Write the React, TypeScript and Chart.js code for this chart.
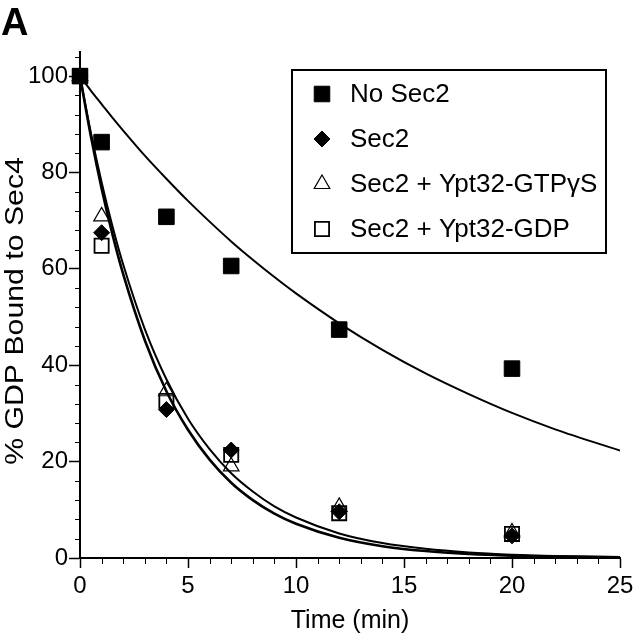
import React, { useEffect, useRef } from 'react';
import { Chart, registerables } from 'chart.js';

Chart.register(...registerables);

// Measured data points (time in min, % GDP bound)
const times = [0, 1, 4, 7, 12, 20];
const noSec2 = [100, 86.3, 70.8, 60.6, 47.4, 39.3];
const sec2 = [100, 67.5, 30.8, 22.4, 9.6, 4.6];
const sec2Gtp = [100, 70.9, 34.6, 19.0, 10.6, 5.3];
const sec2Gdp = [100, 64.8, 32.6, 21.4, 9.3, 5.0];

// Fitted curves
const fitTimes = [0, 0.5, 1, 1.5, 2, 3, 4, 5, 6, 7, 8, 9, 10, 12, 14, 16, 18, 20, 22, 25];
const fitNoSec2 = [100, 97.0, 94.2, 91.4, 88.7, 83.5, 78.7, 74.1, 69.8, 65.7, 61.9, 58.3, 54.9, 48.7, 43.2, 38.3, 34.0, 30.1, 26.7, 22.3];
const fitFastA = [100, 87.6, 76.7, 67.2, 58.9, 45.2, 34.6, 26.6, 20.4, 15.6, 12.0, 9.2, 7.1, 4.2, 2.45, 1.44, 0.85, 0.5, 0.29, 0.13];
const fitFastB = [100, 88.3, 78.0, 68.9, 60.9, 47.5, 37.1, 28.9, 22.6, 17.6, 13.8, 10.7, 8.4, 5.1, 3.1, 1.9, 1.15, 0.7, 0.43, 0.2];

const seriesLabels = ['No Sec2', 'Sec2', 'Sec2 + Ypt32-GTPγS', 'Sec2 + Ypt32-GDP'];

const yTickValues = [0, 20, 40, 60, 80, 100];
const xTickValues = [0, 5, 10, 15, 20, 25];

const xTitle = 'Time (min)';
const yTitle = '% GDP Bound to Sec4';

const FONT = '"Liberation Sans", Arial, sans-serif';

const toXY = (xs: number[], ys: number[]) => xs.map((x, i) => ({ x, y: ys[i] }));

function drawMarker(ctx: CanvasRenderingContext2D, style: string, x: number, y: number, r: number, fill: string, stroke: string, bw: number) {
  ctx.beginPath();
  if (style === 'rect') {
    const s = Math.SQRT1_2 * r;
    ctx.rect(x - s, y - s, 2 * s, 2 * s);
  } else if (style === 'rectRot') {
    ctx.moveTo(x - r, y);
    ctx.lineTo(x, y - r);
    ctx.lineTo(x + r, y);
    ctx.lineTo(x, y + r);
    ctx.closePath();
  } else if (style === 'triangle') {
    ctx.moveTo(x, y - r);
    ctx.lineTo(x + Math.sin((2 * Math.PI) / 3) * r, y + 0.5 * r);
    ctx.lineTo(x - Math.sin((2 * Math.PI) / 3) * r, y + 0.5 * r);
    ctx.closePath();
  }
  if (fill && fill !== 'transparent') {
    ctx.fillStyle = fill;
    ctx.fill();
  }
  if (bw > 0) {
    ctx.lineWidth = bw;
    ctx.strokeStyle = stroke;
    ctx.stroke();
  }
}

const minorTicksPlugin = {
  id: 'minorTicks',
  afterDraw(chart: any) {
    const { ctx } = chart;
    const x = chart.scales.x;
    const y = chart.scales.y;
    ctx.save();
    ctx.strokeStyle = '#000';
    ctx.lineWidth = 1;
    ctx.beginPath();
    for (let v = 0; v <= 25; v++) {
      if (v % 5 === 0) continue;
      const px = Math.round(x.getPixelForValue(v)) + 0.5;
      ctx.moveTo(px, y.bottom);
      ctx.lineTo(px, y.bottom + 6);
    }
    for (let v = 0; v <= 104; v += 4) {
      if (v % 20 === 0) continue;
      const py = Math.round(y.getPixelForValue(v)) + 0.5;
      ctx.moveTo(x.left, py);
      ctx.lineTo(x.left - 5, py);
    }
    ctx.stroke();
    ctx.restore();
  },
};

const yTitlePlugin = {
  id: 'yTitleStretched',
  afterDraw(chart: any) {
    const { ctx, chartArea } = chart;
    ctx.save();
    ctx.translate(23, (chartArea.top + chartArea.bottom) / 2 + 6);
    ctx.rotate(-Math.PI / 2);
    ctx.scale(1.21, 1);
    ctx.font = `25px ${FONT}`;
    ctx.fillStyle = '#000';
    ctx.textAlign = 'center';
    ctx.textBaseline = 'alphabetic';
    ctx.fillText(yTitle, 0, 0);
    ctx.restore();
  },
};

const boxLegendPlugin = {
  id: 'boxLegend',
  afterDraw(chart: any) {
    const { ctx, chartArea } = chart;
    const left = chartArea.left + 212;
    const top = chartArea.top + 18;
    const width = 314;
    const height = 183;
    ctx.save();
    ctx.fillStyle = '#fff';
    ctx.fillRect(left, top, width, height);
    ctx.lineWidth = 2;
    ctx.strokeStyle = '#000';
    ctx.strokeRect(left, top, width, height);
    const items = chart.data.datasets.filter((d: any) => !d.showLine);
    ctx.font = `26px ${FONT}`;
    ctx.textBaseline = 'middle';
    ctx.textAlign = 'left';
    items.forEach((d: any, i: number) => {
      const cy = top + 24 + i * 45;
      drawMarker(ctx, d.pointStyle, left + 30, cy, d.pointRadius, d.backgroundColor, d.borderColor, d.borderWidth);
      ctx.fillStyle = '#000';
      ctx.fillText(d.label, left + 58, cy + 1);
    });
    ctx.restore();
  },
};

export default function App() {
  const ref = useRef<HTMLCanvasElement | null>(null);

  useEffect(() => {
    if (!ref.current) return;
    Chart.defaults.font.family = FONT;
    Chart.defaults.color = '#000';

    const chart = new Chart(ref.current, {
      type: 'scatter',
      data: {
        datasets: [
          {
            label: seriesLabels[0],
            data: toXY(times, noSec2),
            pointStyle: 'rect',
            pointRadius: 11,
            backgroundColor: '#000',
            borderColor: '#000',
            borderWidth: 1,
            clip: false,
          },
          {
            label: seriesLabels[1],
            data: toXY(times, sec2),
            pointStyle: 'rectRot',
            pointRadius: 8,
            backgroundColor: '#000',
            borderColor: '#000',
            borderWidth: 1,
            clip: false,
          },
          {
            label: seriesLabels[2],
            data: toXY(times, sec2Gtp),
            pointStyle: 'triangle',
            pointRadius: 9,
            backgroundColor: 'transparent',
            borderColor: '#000',
            borderWidth: 1.2,
            clip: false,
          },
          {
            label: seriesLabels[3],
            data: toXY(times, sec2Gdp),
            pointStyle: 'rect',
            pointRadius: 10,
            backgroundColor: 'transparent',
            borderColor: '#000',
            borderWidth: 1.8,
            clip: false,
          },
          {
            label: 'fit-noSec2',
            data: toXY(fitTimes, fitNoSec2),
            showLine: true,
            pointRadius: 0,
            borderColor: '#000',
            borderWidth: 2,
            cubicInterpolationMode: 'monotone',
          },
          {
            label: 'fit-fastA',
            data: toXY(fitTimes, fitFastA),
            showLine: true,
            pointRadius: 0,
            borderColor: '#000',
            borderWidth: 2.6,
            cubicInterpolationMode: 'monotone',
          },
          {
            label: 'fit-fastB',
            data: toXY(fitTimes, fitFastB),
            showLine: true,
            pointRadius: 0,
            borderColor: '#000',
            borderWidth: 2,
            cubicInterpolationMode: 'monotone',
          },
        ] as any,
      },
      options: {
        animation: false,
        responsive: false,
        events: [],
        layout: { padding: { left: 0, top: 52, right: 20, bottom: 0 } },
        plugins: {
          legend: { display: false },
          tooltip: { enabled: false },
        },
        scales: {
          x: {
            type: 'linear',
            min: 0,
            max: 25,
            afterBuildTicks: (scale: any) => {
              scale.ticks = xTickValues.map((v) => ({ value: v }));
            },
            ticks: { font: { size: 24 }, color: '#000', padding: 4, maxRotation: 0 },
            grid: { drawOnChartArea: false, drawTicks: true, tickLength: 10, tickColor: '#000', tickWidth: 1.5 },
            border: { display: true, color: '#000', width: 2 },
            title: { display: true, text: xTitle, font: { size: 25 }, color: '#000', padding: { top: 0, bottom: 3 } },
            afterFit: (scale: any) => {
              scale.height = 81;
            },
          },
          y: {
            type: 'linear',
            min: 0,
            max: 105,
            afterBuildTicks: (scale: any) => {
              scale.ticks = yTickValues.map((v) => ({ value: v }));
            },
            ticks: { font: { size: 24 }, color: '#000', padding: 1 },
            grid: { drawOnChartArea: false, drawTicks: true, tickLength: 11, tickColor: '#000', tickWidth: 1.5 },
            border: { display: true, color: '#000', width: 2 },
            title: { display: false },
            afterFit: (scale: any) => {
              scale.width = 80;
            },
          },
        },
      } as any,
      plugins: [minorTicksPlugin, yTitlePlugin, boxLegendPlugin],
    });

    return () => chart.destroy();
  }, []);

  return (
    <div style={{ position: 'absolute', left: 0, top: 0, width: 640, height: 639, background: '#fff' }}>
      <div
        style={{
          position: 'absolute',
          left: 1,
          top: 3,
          fontFamily: FONT,
          fontWeight: 'bold',
          fontSize: 38,
          lineHeight: 1,
        }}
      >
        A
      </div>
      <canvas ref={ref} width={640} height={639} style={{ display: 'block' }} />
    </div>
  );
}
